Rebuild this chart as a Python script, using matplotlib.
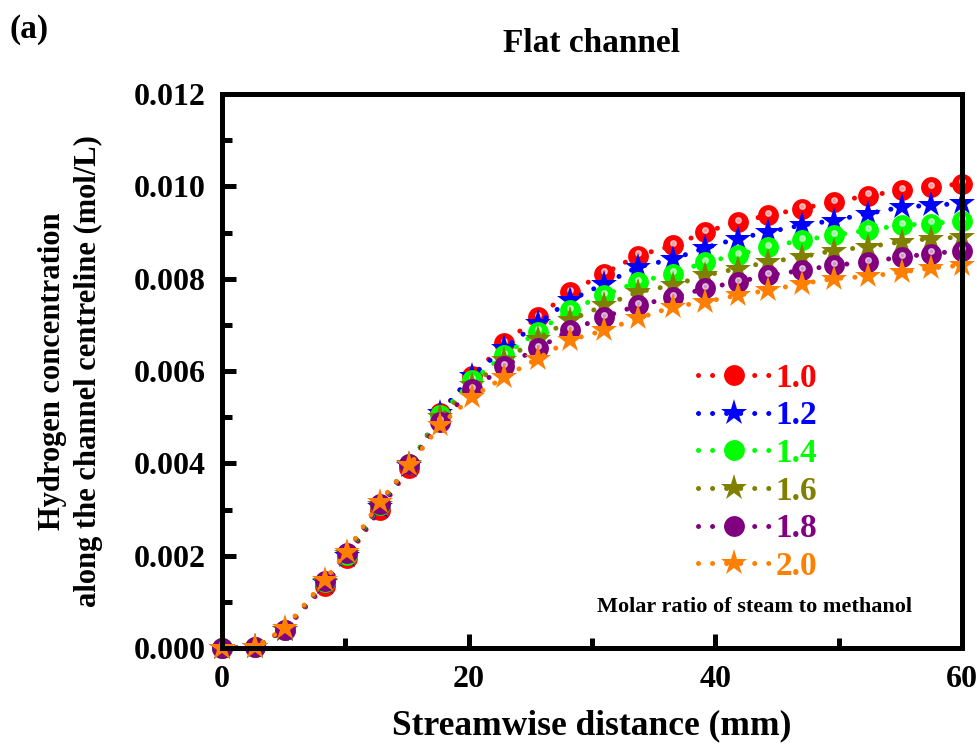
import numpy as np
import matplotlib.pyplot as plt

plt.rcParams['font.family'] = ['Liberation Serif', 'DejaVu Serif']
plt.rcParams['font.weight'] = 'bold'

# streamwise position of the plotted points (mm)
x_mm = [0, 2.7, 5.1, 8.35, 10.1, 12.8, 15.2, 17.7, 20.3, 22.9, 25.6, 28.2,
        31.0, 33.7, 36.6, 39.2, 41.8, 44.3, 47.0, 49.6, 52.4, 55.1, 57.5, 60.0]

# hydrogen concentration (mol/L) for each molar ratio
h2_10 = [0, 0.00002, 0.0004, 0.00135, 0.00195, 0.0030, 0.0039, 0.0051, 0.0059, 0.0066, 0.00717, 0.00771,
         0.00811, 0.0085, 0.00872, 0.00901, 0.00923, 0.00937, 0.00952, 0.00966, 0.0098, 0.00991, 0.00998, 0.01006]
h2_12 = [0, 0.00002, 0.0004, 0.0014, 0.0020, 0.00305, 0.00395, 0.0051, 0.0059, 0.0065, 0.00703, 0.00753,
         0.00789, 0.00825, 0.00843, 0.00867, 0.00887, 0.00901, 0.00916, 0.00926, 0.00941, 0.00955, 0.00959, 0.00963]
h2_14 = [0, 0.00002, 0.0004, 0.00142, 0.00202, 0.0031, 0.00398, 0.00505, 0.0058, 0.00634, 0.00685, 0.00732,
         0.00764, 0.00793, 0.00811, 0.00836, 0.00851, 0.00869, 0.00883, 0.00894, 0.00905, 0.00916, 0.00919, 0.00926]
h2_16 = [0, 0.00002, 0.0004, 0.00144, 0.00204, 0.0031, 0.00398, 0.0050, 0.0057, 0.00623, 0.0067, 0.0071,
         0.00742, 0.00771, 0.00786, 0.00807, 0.00822, 0.00836, 0.00847, 0.00861, 0.00869, 0.0088, 0.00887, 0.0089]
h2_18 = [0, 0.00002, 0.0004, 0.00145, 0.00206, 0.00313, 0.00398, 0.0049, 0.0056, 0.0061, 0.00649, 0.00688,
         0.00717, 0.00742, 0.0076, 0.00779, 0.00793, 0.00807, 0.00818, 0.00829, 0.00836, 0.00847, 0.00854, 0.00861]
h2_20 = [0, 0.00002, 0.00043, 0.00147, 0.00209, 0.00317, 0.00396, 0.00483, 0.00544, 0.00587, 0.00627, 0.00667,
         0.00688, 0.00714, 0.00739, 0.0075, 0.00764, 0.00775, 0.00789, 0.0080, 0.00805, 0.00814, 0.00823, 0.00829]

labels = ['1.0', '1.2', '1.4', '1.6', '1.8', '2.0']
series = [h2_10, h2_12, h2_14, h2_16, h2_18, h2_20]
colors = ['#ff0000', '#0000ff', '#00ff00', '#808000', '#800080', '#ff8000']
markers = ['o', '*', 'o', '*', 'o', '*']

fig = plt.figure(figsize=(9.78, 7.49), dpi=100)
ax = fig.add_axes([0.227, 0.1348, 0.7566, 0.7397])

for y, c, m, lab in zip(series, colors, markers, labels):
    ms = 15 if m == 'o' else 19.5
    ax.plot(x_mm, y, color=c, lw=3.6, linestyle=(0, (0.01, 2.8)),
            dash_capstyle='round', marker=m, markersize=ms,
            markeredgewidth=0, label=lab, clip_on=False)
    if m == 'o':
        # little highlight to mimic the shaded balls
        ax.plot(x_mm, np.array(y) + 0.00005, linestyle='none', marker='o',
                markersize=4, color='white', alpha=0.6, clip_on=False)

ax.set_xlim(0, 60)
ax.set_ylim(0, 0.012)
ax.set_xticks([0, 20, 40, 60])
ax.set_xticks([10, 30, 50], minor=True)
ax.set_yticks(np.arange(0, 0.0121, 0.002))
ax.set_yticks(np.arange(0.001, 0.012, 0.002), minor=True)
ax.yaxis.set_major_formatter(plt.FormatStrFormatter('%.3f'))

for s in ax.spines.values():
    s.set_linewidth(3.6)
ax.tick_params(which='both', direction='in', width=3.6, labelsize=23, pad=8)
ax.tick_params(which='major', length=10)
ax.tick_params(which='minor', length=7)
ax.tick_params(axis='x', pad=12)
ax.tick_params(axis='y', pad=11.5)

ax.set_xlabel('Streamwise distance (mm)', fontsize=25.5, fontweight='bold', labelpad=11)
ax.set_ylabel('Hydrogen concentration\nalong the channel centreline (mol/L)',
              fontsize=22, fontweight='bold', labelpad=22, linespacing=1.35)
ax.set_title('Flat channel', fontsize=24, fontweight='bold', pad=30)
fig.text(0.01, 0.95, '(a)', fontsize=24, fontweight='bold')

leg = ax.legend(loc='upper left', bbox_to_anchor=(0.643, 0.515), frameon=False,
                handlelength=2.2, handletextpad=0.12, labelspacing=0.2,
                borderpad=0, borderaxespad=0, labelcolor='linecolor',
                prop={'size': 24, 'weight': 'bold'})
ax.text(0.719, 0.074, 'Molar ratio of steam to methanol', transform=ax.transAxes,
        ha='center', va='center', fontsize=16, fontweight='bold')

fig.savefig('out.png', dpi=100)
